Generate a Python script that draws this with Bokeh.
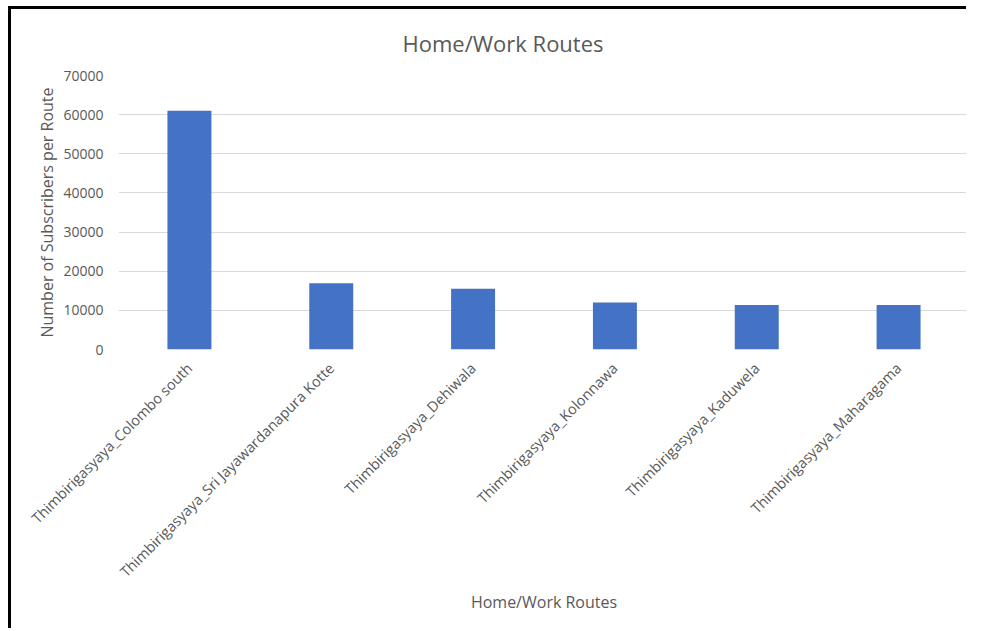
from bokeh.plotting import figure
from bokeh.models import FactorRange, Range1d, FixedTicker, GlobalInlineStyleSheet
from bokeh.embed import file_html
from bokeh.resources import INLINE
import math

routes = [
    "Thimbirigasyaya_Colombo south",
    "Thimbirigasyaya_Sri Jayawardanapura Kotte",
    "Thimbirigasyaya_Dehiwala",
    "Thimbirigasyaya_Kolonnawa",
    "Thimbirigasyaya_Kaduwela",
    "Thimbirigasyaya_Maharagama",
]
subscribers = [61000, 16900, 15500, 12000, 11350, 11350]
y_ticks = [0, 10000, 20000, 30000, 40000, 50000, 60000, 70000]

FONT = "Open Sans"
TXT = "#595959"

p = figure(
    x_range=FactorRange(*routes),
    y_range=Range1d(0, 70000),
    width=958, height=622,
    output_backend="svg", toolbar_location=None,
    title="Home/Work Routes",
    min_border_left=107, min_border_right=0,
    min_border_top=66, min_border_bottom=282,
)
p.styles = {
    "border-top": "3px solid black",
    "border-left": "3px solid black",
    "border-right": "0px none white",
    "border-bottom": "0px none white",
    "margin-left": "8px",
    "margin-top": "6px",
}
p.stylesheets = [GlobalInlineStyleSheet(css="html, body { overflow: hidden !important; margin: 0; }")]

p.vbar(x=routes, top=subscribers, width=0.31, color="#4472C4", line_color=None)

p.title.align = "left"
p.title.offset = 284
p.title.vertical_align = "top"
p.title.standoff = 32
p.title.text_font = FONT
p.title.text_font_size = "22px"
p.title.text_font_style = "normal"
p.title.text_color = TXT

p.outline_line_color = None
p.xgrid.grid_line_color = None
p.ygrid.grid_line_color = "#D9D9D9"
p.ygrid.grid_line_width = 1

p.yaxis.ticker = FixedTicker(ticks=y_ticks)
for ax in (p.xaxis[0], p.yaxis[0]):
    ax.axis_line_color = None
    ax.major_tick_line_color = None
    ax.minor_tick_line_color = None
    ax.major_tick_out = 0
    ax.major_tick_in = 0
    ax.major_label_text_font = FONT
    ax.major_label_text_color = TXT
    ax.major_label_text_font_size = "14px"
    ax.axis_label_text_font = FONT
    ax.axis_label_text_color = TXT
    ax.axis_label_text_font_size = "16px"
    ax.axis_label_text_font_style = "normal"

p.xaxis.major_label_text_font_size = "14.5px"
p.xaxis.axis_label = "Home/Work Routes"
p.yaxis.axis_label = "Number of Subscribers per Route"
p.xaxis.major_label_orientation = math.pi / 4
p.xaxis.major_label_standoff = 16
p.xaxis.axis_label_standoff = 0
p.yaxis.major_label_standoff = 15
p.yaxis.axis_label_standoff = 2

open("out.html", "w").write(file_html(p, INLINE))
